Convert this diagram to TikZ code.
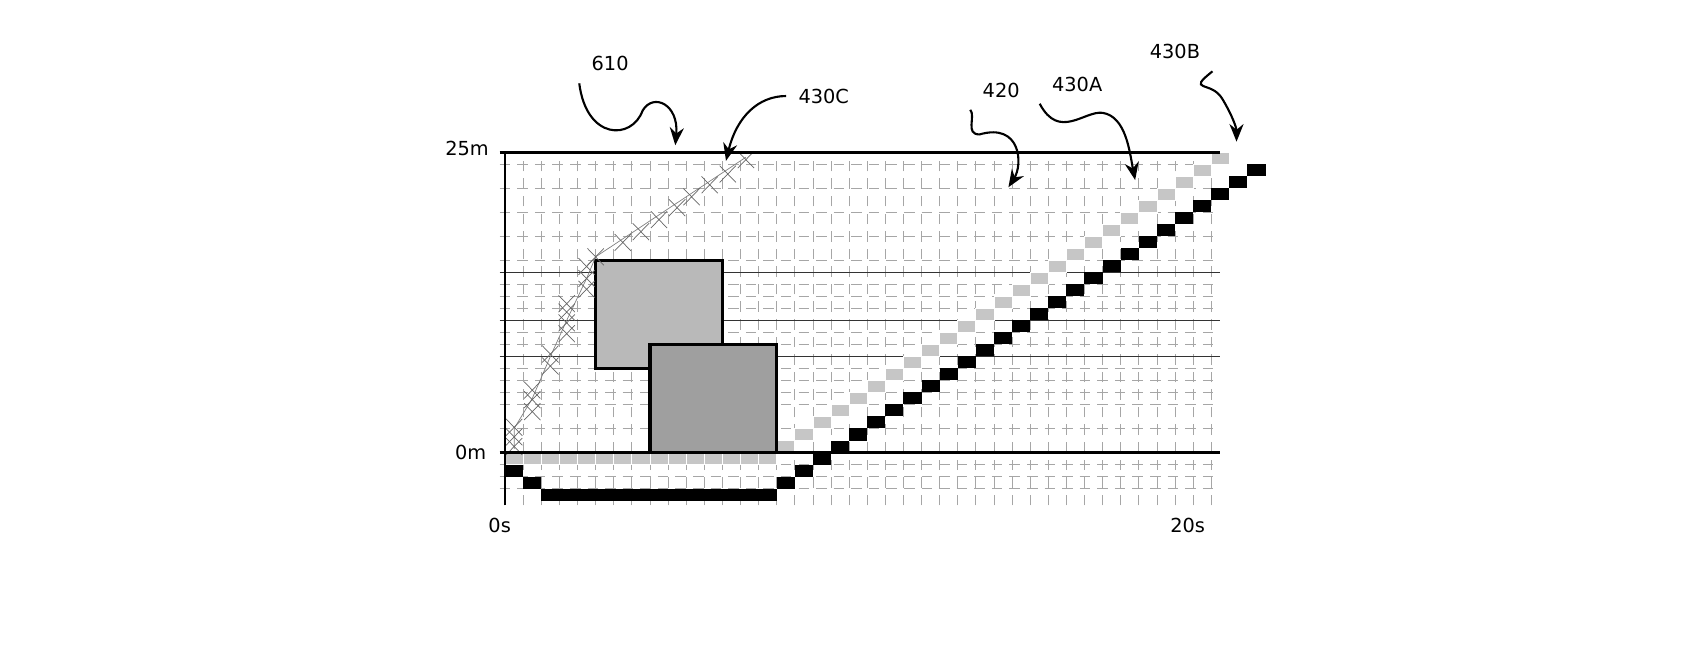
\documentclass[tikz,border=0pt]{standalone}
\usepackage{fontspec}
\setmainfont{DejaVu Sans}
\usetikzlibrary{arrows.meta}
\begin{document}
\begin{tikzpicture}[x=0.181cm,y=0.12cm,font=\fontsize{5.5}{6}\selectfont,
  gridline/.style={gray!70,very thin,densely dashed},
  blksq/.style={fill=black},
  grysq/.style={fill=gray!45,draw=white,very thin},
  box/.style={draw=black,line width=1pt},
  callout/.style={-{Stealth[length=5pt,width=4pt]},line width=0.6pt}]

      \useasboundingbox (-27.9,-16.5) rectangle (66,37.7);

      % grid
      \foreach \c in {1,...,39}
        \draw[gridline] (\c,-4.4) -- (\c,25);
      \foreach \r in {-3,-2,-1,2,4,5,6,7,9,10,12,13,14,16,18,20,22,24}
        \draw[gridline] (-0.3,\r) -- (39.5,\r);
      \foreach \r in {8,11,15}
        \draw[black!80,thin] (-0.3,\r) -- (39.5,\r);

      % squares
      \foreach \k in {15,...,39}
        \fill[grysq] (\k,\k-15) rectangle ++(1,1);
      \foreach \k in {0,...,14}
        \fill[grysq] (\k,-1) rectangle ++(1,1);
      \fill[blksq] (0,-2) rectangle ++(1,1);
      \fill[blksq] (1,-3) rectangle ++(1,1);
      \fill[blksq] (2,-4) rectangle (15,-3);
      \fill[blksq] (15,-3) rectangle ++(1,1);
      \fill[blksq] (16,-2) rectangle ++(1,1);
      \foreach \k in {17,...,41}
        \fill[blksq] (\k,\k-18) rectangle ++(1,1);

      % boxes
      \draw[box,fill=gray!55] (5,7) rectangle (12,16);
      \draw[box,fill=gray!75] (8,0) rectangle (15,9);

      % crosses
      \draw[gray,very thin] (0.5,0.3) -- (0.5,2) -- (1.5,4.5) -- (2.5,8) -- (3.4,11) -- (4.5,14.5) -- (5,16.3) -- (13.3,24.6);
      \foreach \px/\py in {0.5/0.5,0.5/1.3,0.5/2.1,1.5/3.4,1.5/4.4,1.5/5.2,2.5/7.2,2.5/8.2,3.4/9.9,3.4/10.8,3.4/11.7,3.4/12.4,4.5/13.6,4.5/14.5,4.5/15.5,5/16.3,6.5/17.5,7.5/18.4,8.5/19.4,9.5/20.4,10.3/21.3,11.3/22.3,12.3/23.2,13.3/24.4}
        \draw[gray!80!black,very thin] (\px-0.45,\py-0.7) -- (\px+0.45,\py+0.7) (\px-0.45,\py+0.7) -- (\px+0.45,\py-0.7);

      % axes
      \draw[black,thin] (0,-4.4) -- (0,25);
      \draw[black,line width=1pt] (-0.3,25) -- (39.5,25);
      \draw[black,line width=0.8pt] (-0.3,0) -- (39.5,0);

      \node (ytop) at (-2.1,25.3) {25m};
      \node (ybot) at (-1.9,0) {0m};
      \node (xleft) at (-0.3,-6.1) {0s};
      \node (xright) at (37.7,-6.1) {20s};

      % callouts
      \node (l610) at (5.8,32.4) {610};
      \node (l430c) at (17.6,29.7) {430C};
      \node (l420) at (27.4,30.2) {420};
      \node (l430a) at (31.6,30.7) {430A};
      \node (l430b) at (37.0,33.4) {430B};

      \coordinate (t610) at (9.4,25.6);
      \coordinate (t430c) at (12.2,24.3);
      \coordinate (t420) at (27.8,22.1);
      \coordinate (t430a) at (34.8,22.7);
      \coordinate (t430b) at (40.4,25.9);

      \draw[callout] (l610.south west) .. controls (4.5,26) and (7,26) .. (7.6,28.5) .. controls (8.2,30) and (9.6,29) .. (t610);
      \draw[callout] (l430c.west) .. controls (14,29.7) and (12.8,28) .. (t430c);
      \draw[callout] (l420.south west) .. controls (26,28) and (25.4,26.5) .. (26.2,26.5) .. controls (28.5,27.5) and (28.6,24) .. (t420);
      \draw[callout] (l430a.south west) .. controls (30.6,26) and (32,28.5) .. (33,28.3) .. controls (34.3,28) and (34.5,25) .. (t430a);
      \draw[callout] (l430b.south east) .. controls (37.6,30) and (39,31) .. (39.6,29.5) .. controls (40.2,28) and (40.4,27) .. (t430b);

    \end{tikzpicture}
\end{document}
